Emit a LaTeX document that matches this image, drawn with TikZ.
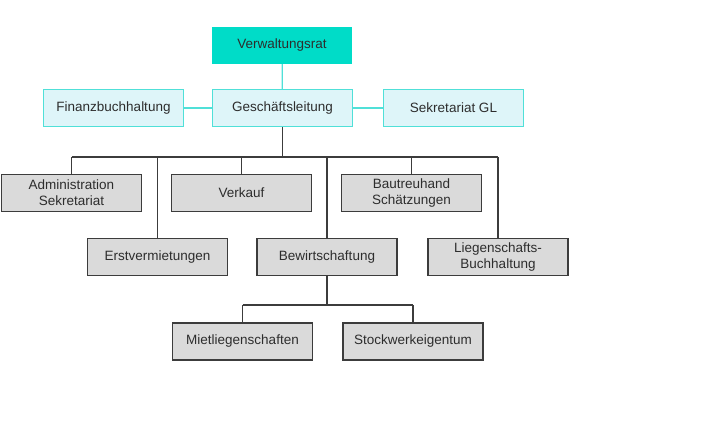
\documentclass[tikz,border=0pt]{standalone}
\usepackage{fontspec}
\setmainfont{Liberation Sans}
\usepackage{tikz}
\usetikzlibrary {arrows.meta}

\definecolor{vrfill}{RGB}{0,220,200}
\definecolor{glfill}{RGB}{222,245,249}
\definecolor{glline}{RGB}{80,224,216}
\definecolor{grfill}{RGB}{218,218,218}
\definecolor{grline}{RGB}{60,60,60}
\definecolor{txt}{RGB}{45,45,45}

\tikzset{
  unit/.style={minimum width=140pt, minimum height=37pt, inner sep=0pt, align=center,
    text=txt, font=\fontsize{13.5}{16}\selectfont},
  vrbox/.style={unit, fill=vrfill},
  glbox/.style={unit, fill=glfill, draw=glline, line width=1.1pt},
  grbox/.style={unit, fill=grfill, draw=grline, line width=1.2pt},
  glconn/.style={glline, line width=1.3pt},
  grconn/.style={grline, line width=1.1pt}
}

\begin{document}
\begin{tikzpicture}[x=1pt, y=-1pt]
\useasboundingbox (0,0) rectangle (720,423);
\path (282,45.5) node (VR) [vrbox] {Verwaltungsrat};
\path (282.5,108) node (GL) [glbox] {Geschäftsleitung};
\path (113.5,108) node (FB) [glbox] {Finanzbuchhaltung};
\path (453.5,108) node (SG) [glbox] {Sekretariat GL};
\path (71.5,193) node (AS) [grbox] {Administration\\Sekretariat};
\path (241.5,193) node (VK) [grbox] {Verkauf};
\path (411.5,193) node (BS) [grbox] {Bautreuhand\\Schätzungen};
\path (157.5,257) node (EV) [grbox] {Erstvermietungen};
\path (327,257) node (BW) [grbox] {Bewirtschaftung};
\path (498,257) node (LB) [grbox] {Liegenschafts-\\Buchhaltung};
\path (242.5,341.5) node (ML) [grbox] {Mietliegenschaften};
\path (413,341.5) node (SW) [grbox] {Stockwerkeigentum};
\coordinate (B1) at (0,157);
\coordinate (B2) at (0,305);
\draw[glconn] (VR) -- (GL);
\draw[glconn] (FB) -- (GL);
\draw[glconn] (GL) -- (SG);
\draw[grconn] (GL.south) -- (GL.south |- B1);
\draw[grconn] (AS.north |- B1) -- (LB.north |- B1);
\draw[grconn] (AS.north) -- (AS.north |- B1);
\draw[grconn] (VK.north) -- (VK.north |- B1);
\draw[grconn] (BS.north) -- (BS.north |- B1);
\draw[grconn] (EV.north) -- (EV.north |- B1);
\draw[grconn] (BW.north) -- (BW.north |- B1);
\draw[grconn] (LB.north) -- (LB.north |- B1);
\draw[grconn] (BW.south) -- (BW.south |- B2);
\draw[grconn] (ML.north |- B2) -- (SW.north |- B2);
\draw[grconn] (ML.north) -- (ML.north |- B2);
\draw[grconn] (SW.north) -- (SW.north |- B2);
\end{tikzpicture}
\end{document}
